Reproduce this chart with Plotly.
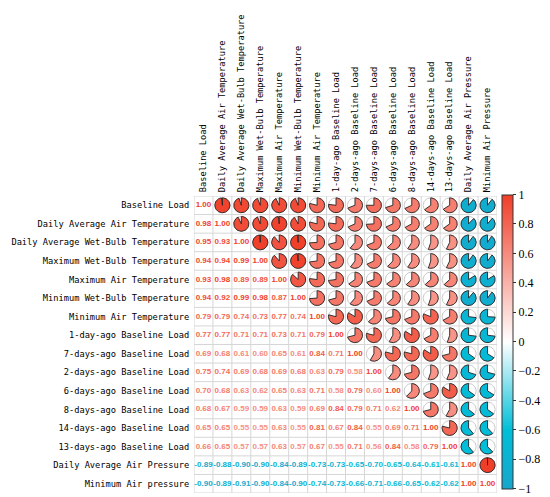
import numpy as np
import plotly.graph_objects as go
from plotly.colors import sample_colorscale

# row labels (left) and column labels (top) as printed in the figure
row_labels = [
    "Baseline Load",
    "Daily Average Air Temperature",
    "Daily Average Wet-Bulb Temperature",
    "Maximum Wet-Bulb Temperature",
    "Maximum Air Temperature",
    "Minimum Wet-Bulb Temperature",
    "Minimum Air Temperature",
    "1-day-ago Baseline Load",
    "7-days-ago Baseline Load",
    "2-days-ago Baseline Load",
    "6-days-ago Baseline Load",
    "8-days-ago Baseline Load",
    "14-days-ago Baseline Load",
    "13-days-ago Baseline Load",
    "Daily Average Air Pressure",
    "Minimum Air pressure",
]
col_labels = [
    "Baseline Load",
    "Daily Average Air Temperature",
    "Daily Average Wet-Bulb Temperature",
    "Maximum Wet-Bulb Temperature",
    "Maximum Air Temperature",
    "Minimum Wet-Bulb Temperature",
    "Minimum Air Temperature",
    "1-day-ago Baseline Load",
    "2-days-ago Baseline Load",
    "7-days-ago Baseline Load",
    "6-days-ago Baseline Load",
    "8-days-ago Baseline Load",
    "14-days-ago Baseline Load",
    "13-days-ago Baseline Load",
    "Daily Average Air Pressure",
    "Minimum Air Pressure",
]

# lower triangle of the correlation matrix (incl. diagonal)
lower = [
    [1.00],
    [0.98, 1.00],
    [0.95, 0.93, 1.00],
    [0.94, 0.94, 0.99, 1.00],
    [0.93, 0.98, 0.89, 0.89, 1.00],
    [0.94, 0.92, 0.99, 0.98, 0.87, 1.00],
    [0.79, 0.79, 0.74, 0.73, 0.77, 0.74, 1.00],
    [0.77, 0.77, 0.71, 0.71, 0.73, 0.71, 0.79, 1.00],
    [0.69, 0.68, 0.61, 0.60, 0.65, 0.61, 0.84, 0.71, 1.00],
    [0.75, 0.74, 0.69, 0.68, 0.69, 0.68, 0.63, 0.79, 0.58, 1.00],
    [0.70, 0.68, 0.63, 0.62, 0.65, 0.63, 0.71, 0.58, 0.79, 0.60, 1.00],
    [0.68, 0.67, 0.59, 0.59, 0.63, 0.59, 0.69, 0.84, 0.79, 0.71, 0.62, 1.00],
    [0.65, 0.65, 0.55, 0.55, 0.63, 0.55, 0.81, 0.67, 0.84, 0.55, 0.69, 0.71, 1.00],
    [0.66, 0.65, 0.57, 0.57, 0.63, 0.57, 0.67, 0.55, 0.71, 0.56, 0.84, 0.58, 0.79, 1.00],
    [-0.89, -0.88, -0.90, -0.90, -0.84, -0.89, -0.73, -0.73, -0.65, -0.70, -0.65, -0.64, -0.61, -0.61, 1.00],
    [-0.90, -0.89, -0.91, -0.90, -0.84, -0.90, -0.74, -0.73, -0.66, -0.71, -0.66, -0.65, -0.62, -0.62, 1.00, 1.00],
]

cbar_ticks = [1, 0.8, 0.6, 0.4, 0.2, 0, -0.2, -0.4, -0.6, -0.8, -1]

n = len(row_labels)
corr = np.zeros((n, n))
for i, row in enumerate(lower):
    for j, v in enumerate(row):
        corr[i, j] = v
        corr[j, i] = v

colorscale = [
    [0.0, "rgb(24,166,204)"],
    [0.2, "rgb(0,190,216)"],
    [0.5, "rgb(255,255,255)"],
    [1.0, "rgb(240,62,40)"],
]


def col_of(v):
    return sample_colorscale(colorscale, [(v + 1) / 2])[0]


fig = go.Figure()

# cell grid
gx, gy = [], []
for k in np.arange(-0.5, n, 1.0):
    gx += [k, k, None]
    gy += [-0.5, n - 0.5, None]
    gx += [-0.5, n - 0.5, None]
    gy += [k, k, None]
fig.add_trace(go.Scatter(x=gx, y=gy, mode="lines",
                         line=dict(color="#d6d6d6", width=1),
                         hoverinfo="skip", showlegend=False))

# pies in the upper triangle
R = 0.4
th = np.linspace(0, 2 * np.pi, 60)
cx_all, cy_all = [], []
for i in range(n):
    for j in range(i + 1, n):
        cx_all += list(j + R * np.sin(th)) + [None]
        cy_all += list(i - R * np.cos(th)) + [None]
fig.add_trace(go.Scatter(x=cx_all, y=cy_all, mode="lines",
                         line=dict(color="#c8c8c8", width=1),
                         hoverinfo="skip", showlegend=False))

for i in range(n):
    for j in range(i + 1, n):
        v = corr[i, j]
        a = np.linspace(0, 2 * np.pi * abs(v), 60)
        sgn = 1 if v >= 0 else -1
        px_ = [j] + list(j + sgn * R * np.sin(a)) + [j]
        py_ = [i] + list(i - R * np.cos(a)) + [i]
        fig.add_trace(go.Scatter(x=px_, y=py_, mode="lines", fill="toself",
                                 fillcolor=col_of(v),
                                 line=dict(color="#222222", width=0.9),
                                 hoverinfo="skip", showlegend=False))

# numbers in the lower triangle
tx, ty, tt, tc = [], [], [], []
for i in range(n):
    for j in range(i + 1):
        v = corr[i, j]
        tx.append(j)
        ty.append(i)
        tt.append(f"{v:.2f}")
        tc.append(col_of(v))
fig.add_trace(go.Scatter(x=tx, y=ty, mode="text", text=tt,
                         textfont=dict(family="Liberation Sans", size=8,
                                       color=tc, weight="bold"),
                         hoverinfo="skip", showlegend=False))

# colour bar (dummy marker kept outside the visible range)
fig.add_trace(go.Scatter(
    x=[-5], y=[-5], mode="markers",
    marker=dict(size=1, color=[0], cmin=-1, cmax=1, colorscale=colorscale,
                showscale=True,
                colorbar=dict(thickness=11, lenmode="pixels", len=294,
                              x=1.017, xanchor="left", xpad=0,
                              y=0.51, yanchor="middle", ypad=0,
                              outlinecolor="#333333", outlinewidth=1,
                              tickvals=cbar_ticks,
                              ticktext=[str(t) if t >= 0 else "\u2212" + str(abs(t)) for t in cbar_ticks],
                              ticks="outside", ticklen=3, tickcolor="#333333",
                              tickfont=dict(family="Liberation Serif", size=12, color="black"))),
    hoverinfo="skip", showlegend=False))

# page has an 8px body margin, so the figure is sized a little smaller
label_font = dict(family="DejaVu Sans Mono", size=8.7, color="black")
fig.update_layout(
    width=542, height=489,
    margin=dict(l=186, r=53, t=188, b=4, autoexpand=False),
    paper_bgcolor="white", plot_bgcolor="white",
    xaxis=dict(range=[-0.5, n - 0.5], side="top", tickmode="array",
               tickvals=list(range(n)), ticktext=col_labels, tickangle=-90,
               showgrid=False, zeroline=False, showline=False, automargin=False,
               ticks="outside", ticklen=1, tickcolor="rgba(0,0,0,0)",
               tickfont=label_font),
    yaxis=dict(range=[n - 0.5, -0.5], tickmode="array",
               tickvals=list(range(n)), ticktext=row_labels,
               showgrid=False, zeroline=False, showline=False, automargin=False,
               ticks="outside", ticklen=2, tickcolor="rgba(0,0,0,0)",
               tickfont=label_font),
)

fig.write_html("out.html")
